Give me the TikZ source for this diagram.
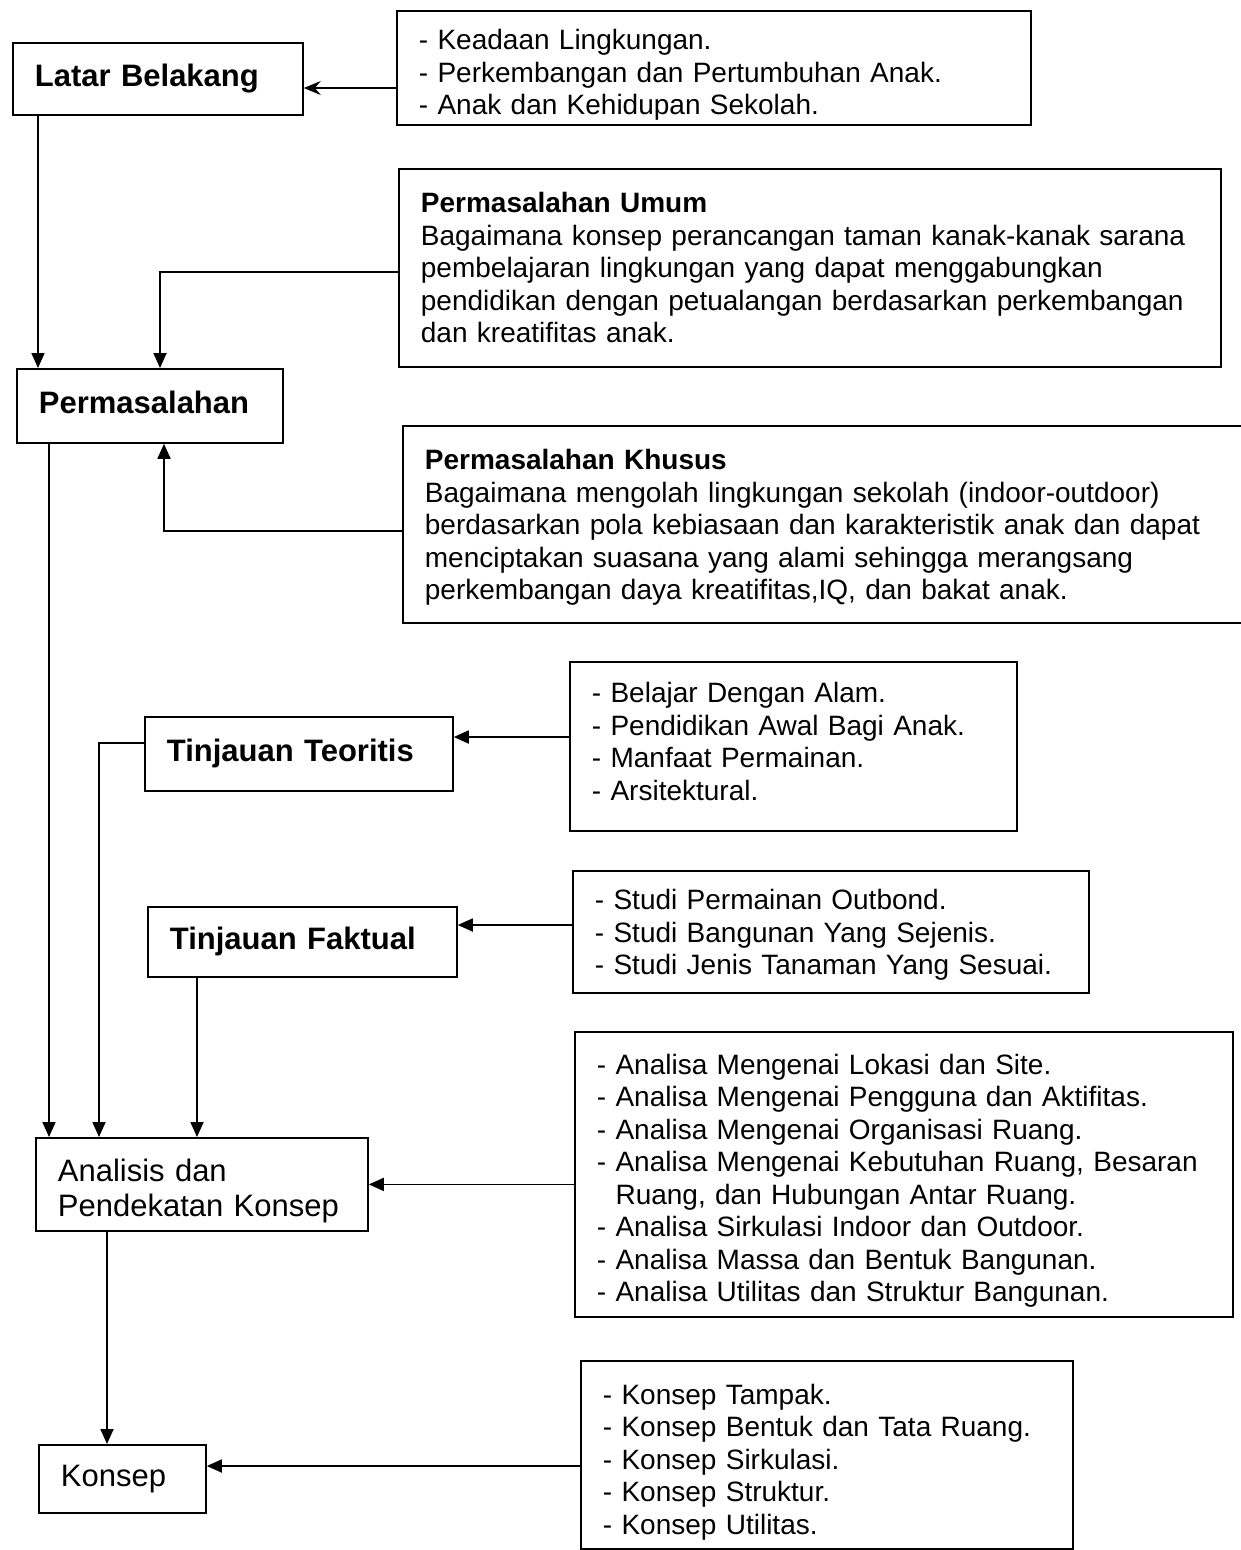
\documentclass[tikz,border=0pt]{standalone}
\usepackage{fontspec}
\setmainfont{Liberation Sans}
\usetikzlibrary{arrows.meta}
\newcommand{\bodyfs}{\fontsize{28}{32.5}\selectfont}
\newcommand{\headfs}{\fontsize{31}{34}\selectfont\bfseries}
\newcommand{\midfs}{\fontsize{31}{34.5}\selectfont}
\begin{document}
\begin{tikzpicture}[x=1pt,y=-1pt,
  boxbase/.style={draw, line width=1.8pt, inner xsep=22pt, inner ysep=0pt, align=left, anchor=north west},
  body/.style={boxbase, font=\bodyfs},
  head/.style={boxbase, font=\headfs},
  mid/.style={boxbase, font=\midfs},
  pushdown/.style={execute at begin node={\rule{0pt}{#1}}},
  liftup/.style={execute at end node={\rule[-#1]{0pt}{0pt}}},
  arr/.style={line width=1.8pt, -{Triangle[length=15pt,width=13pt]}},
  arrs/.style={line width=1.8pt, -{Stealth[length=17pt,width=14pt,inset=6pt]}}]
\useasboundingbox (0,0) rectangle (1240,1550);
% left column
\node[head, minimum width=290pt, minimum height=72pt, text width=246pt] (lb) at (12,42) {Latar Belakang};
\node[head, minimum width=266pt, minimum height=74pt, text width=222pt, liftup=8pt] (pm) at (16,368) {Permasalahan};
\node[head, minimum width=308pt, minimum height=74pt, text width=264pt] (tt) at (144,716) {Tinjauan Teoritis};
\node[head, minimum width=309pt, minimum height=70pt, text width=265pt] (tf) at (147,906) {Tinjauan Faktual};
\node[mid, minimum width=332pt, minimum height=93pt, text width=288pt, pushdown=36pt] (an) at (35,1137) {Analisis dan\\Pendekatan Konsep};
\node[mid, minimum width=167pt, minimum height=68pt, text width=123pt] (ks) at (38,1444) {Konsep};
% right column
\node[body, minimum width=634pt, minimum height=114pt, text width=590pt, pushdown=34.5pt] (b2) at (396,10)
  {- Keadaan Lingkungan.\\- Perkembangan dan Pertumbuhan Anak.\\- Anak dan Kehidupan Sekolah.};
\node[body, minimum width=822pt, minimum height=198pt, text width=778pt] (pu) at (398,168)
  {\textbf{Permasalahan Umum}\\Bagaimana konsep perancangan taman kanak-kanak sarana\\pembelajaran lingkungan yang dapat menggabungkan\\pendidikan dengan petualangan berdasarkan perkembangan\\dan kreatifitas anak.};
\node[body, minimum width=858pt, minimum height=197pt, text width=814pt, pushdown=26.5pt] (pk) at (402,425)
  {\textbf{Permasalahan Khusus}\\Bagaimana mengolah lingkungan sekolah (indoor-outdoor)\\berdasarkan pola kebiasaan dan karakteristik anak dan dapat\\menciptakan suasana yang alami sehingga merangsang\\perkembangan daya kreatifitas,IQ, dan bakat anak.};
\node[body, minimum width=447pt, minimum height=169pt, text width=403pt, liftup=10pt] (b7) at (569,661)
  {- Belajar Dengan Alam.\\- Pendidikan Awal Bagi Anak.\\- Manfaat Permainan.\\- Arsitektural.};
\node[body, minimum width=516pt, minimum height=122pt, text width=472pt, pushdown=26.5pt] (b9) at (572,870)
  {- Studi Permainan Outbond.\\- Studi Bangunan Yang Sejenis.\\- Studi Jenis Tanaman Yang Sesuai.};
\node[body, minimum width=658pt, minimum height=285pt, text width=614pt, pushdown=32.5pt] (b11) at (574,1031)
  {- Analisa Mengenai Lokasi dan Site.\\- Analisa Mengenai Pengguna dan Aktifitas.\\- Analisa Mengenai Organisasi Ruang.\\- Analisa Mengenai Kebutuhan Ruang, Besaran\\\hphantom{- }Ruang, dan Hubungan Antar Ruang.\\- Analisa Sirkulasi Indoor dan Outdoor.\\- Analisa Massa dan Bentuk Bangunan.\\- Analisa Utilitas dan Struktur Bangunan.};
\node[body, minimum width=492pt, minimum height=188pt, text width=448pt, pushdown=34.5pt] (b13) at (580,1360)
  {- Konsep Tampak.\\- Konsep Bentuk dan Tata Ruang.\\- Konsep Sirkulasi.\\- Konsep Struktur.\\- Konsep Utilitas.};
% connectors
\draw[arrs] (b2.west |- 0,88) -- (lb.east |- 0,88);
\draw[arr] (lb.south -| 38,0) -- (pm.north -| 38,0);
\draw[arr] (pu.west |- 0,272) -| (pm.north -| 160,0);
\draw[arr] (pk.west |- 0,531) -| (pm.south -| 164,0);
\draw[arr] (pm.south -| 49,0) -- (an.north -| 49,0);
\draw[arr] (tt.west |- 0,743) -| (an.north -| 99,0);
\draw[arr] (tf.south -| 197,0) -- (an.north -| 197,0);
\draw[arr] (b7.west |- 0,737) -- (tt.east |- 0,737);
\draw[arr] (b9.west |- 0,925) -- (tf.east |- 0,925);
\draw[arr] (b11.west |- an.east) -- (an.east);
\draw[arr] (an.south -| 107,0) -- (ks.north -| 107,0);
\draw[arr] (b13.west |- 0,1466) -- (ks.east |- 0,1466);
\end{tikzpicture}
\end{document}
